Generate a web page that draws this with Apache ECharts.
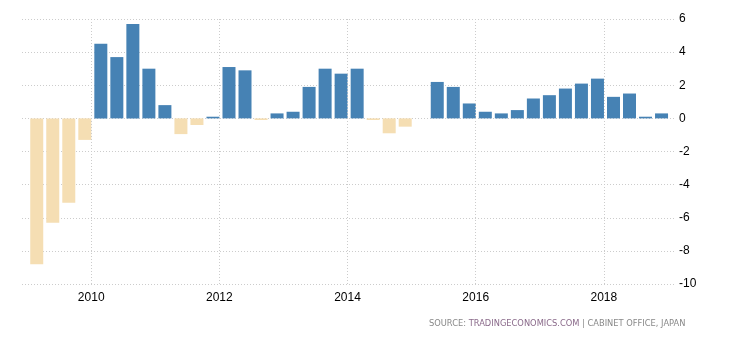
<!DOCTYPE html>
<html>
<head>
<meta charset="utf-8">
<script src="https://cdn.jsdelivr.net/npm/echarts@6/dist/echarts.min.js"></script>
<style>html,body{margin:0;padding:0;background:#fff;}#c{width:730px;height:340px;}</style>
</head>
<body>
<div id="c"></div>
<script>
const quarters = ['2009Q1','2009Q2','2009Q3','2009Q4','2010Q1','2010Q2','2010Q3','2010Q4',
  '2011Q1','2011Q2','2011Q3','2011Q4','2012Q1','2012Q2','2012Q3','2012Q4',
  '2013Q1','2013Q2','2013Q3','2013Q4','2014Q1','2014Q2','2014Q3','2014Q4',
  '2015Q1','2015Q2','2015Q3','2015Q4','2016Q1','2016Q2','2016Q3','2016Q4',
  '2017Q1','2017Q2','2017Q3','2017Q4','2018Q1','2018Q2','2018Q3','2018Q4'];
const values = [-8.8,-6.3,-5.1,-1.3,4.5,3.7,5.7,3.0,
  0.8,-0.95,-0.4,0.1,3.1,2.9,-0.1,0.3,
  0.4,1.9,3.0,2.7,3.0,-0.1,-0.9,-0.5,
  0,2.2,1.9,0.9,0.4,0.3,0.5,1.2,
  1.4,1.8,2.1,2.4,1.3,1.5,0.1,0.3];
const xTickYears = [2010, 2012, 2014, 2016, 2018];
const yTicks = [-10,-8,-6,-4,-2,0,2,4,6];
const sourceText = ['SOURCE: ', 'TRADINGECONOMICS.COM', ' | CABINET OFFICE, JAPAN'];

const BAR_OFFSET = 0.1; // bars right-aligned to quarter end
function qToX(q){ const y = +q.slice(0,4), n = +q.slice(5); return y + n*0.25 - BAR_OFFSET; }
const barData = quarters.map((q,i)=>[qToX(q), values[i]]);

const chart = echarts.init(document.getElementById('c'), null, {renderer:'canvas'});
const dotted = {color:'#cccccc', type:[1,2], width:1};
chart.setOption({
  animation:false,
  backgroundColor:'#fff',
  grid:{left:22, right:55, top:19, bottom:56},
  xAxis:{
    type:'value', min:2008.92, max:2019.11,
    axisLine:{show:false}, axisTick:{show:false}, splitLine:{show:false},
    axisLabel:{customValues:xTickYears, formatter:v=>String(Math.round(v)), color:'#000', fontFamily:'Liberation Sans, Arial', fontSize:12, margin:8}
  },
  yAxis:{
    type:'value', position:'right', min:yTicks[0], max:yTicks[yTicks.length-1], interval:2,
    axisLine:{show:false}, axisTick:{show:false},
    splitLine:{show:true, lineStyle:dotted},
    axisLabel:{color:'#000', fontFamily:'Liberation Sans, Arial', fontSize:12, margin:4}
  },
  series:[{
    type:'bar', data:barData, barWidth:13,
    itemStyle:{color:p=>p.value[1] < 0 ? '#F5DEB3' : '#4682B4'},
    markLine:{silent:true, symbol:'none', label:{show:false},
      lineStyle:dotted,
      data:xTickYears.map(y=>({xAxis:y}))}
  }],
  graphic:[{
    type:'text', left:429, top:320,
    style:{rich:{a:{fill:'#888'},b:{fill:'#8a6a8a'}},
      text:'{a|'+sourceText[0]+'}{b|'+sourceText[1]+'}{a|'+sourceText[2]+'}',
      font:'8.3px "DejaVu Sans", Verdana, sans-serif', fill:'#888'}
  }]
});
</script>
</body>
</html>
